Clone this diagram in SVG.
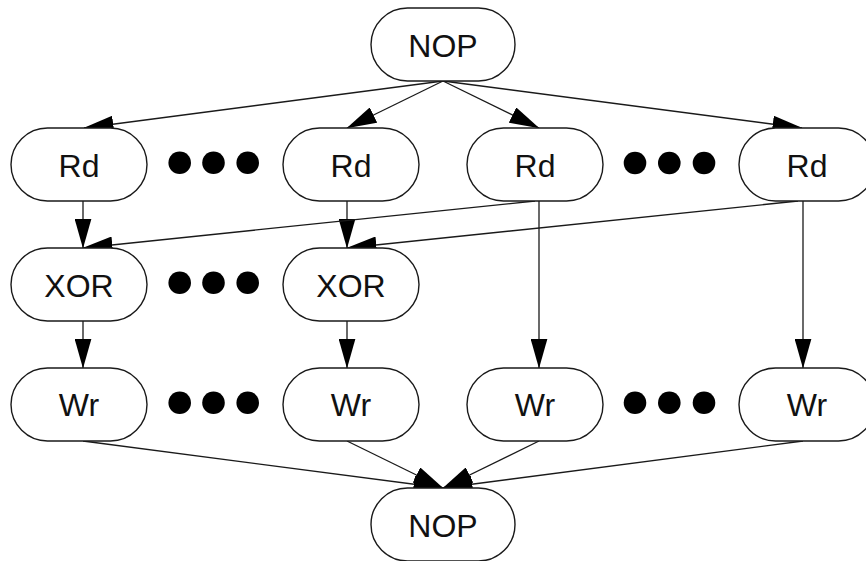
<svg xmlns="http://www.w3.org/2000/svg" width="866" height="561" viewBox="0 0 866 561">
<style>
.node rect{fill:#fff;stroke:#1a1a1a;stroke-width:1.4}
.node text{font-family:"Liberation Sans",Arial,sans-serif;font-size:32px;fill:#111;text-anchor:middle}
.edge{stroke:#1a1a1a;stroke-width:1.3;fill:none;marker-end:url(#arr)}
.dot{fill:#000}
</style>
<defs>
<marker id="arr" markerUnits="userSpaceOnUse" markerWidth="30" markerHeight="17" viewBox="0 0 30 17" refX="29.5" refY="8.5" orient="auto">
<path d="M0,0 L30,8.5 L0,17 z" fill="#000"/>
</marker>
</defs>
<rect width="866" height="561" fill="#fff"/>
<g id="connectors">
<line class="edge" x1="443" y1="81" x2="84" y2="128"/>
<line class="edge" x1="443" y1="81" x2="347" y2="128"/>
<line class="edge" x1="443" y1="81" x2="539" y2="128"/>
<line class="edge" x1="443" y1="81" x2="802" y2="128"/>
<line class="edge" x1="83" y1="201" x2="83" y2="248"/>
<line class="edge" x1="347" y1="201" x2="347" y2="248"/>
<line class="edge" x1="535" y1="201" x2="83" y2="248"/>
<line class="edge" x1="798" y1="201" x2="347" y2="248"/>
<line class="edge" x1="539" y1="201" x2="539" y2="368"/>
<line class="edge" x1="803" y1="201" x2="803" y2="368"/>
<line class="edge" x1="83" y1="321" x2="83" y2="368"/>
<line class="edge" x1="347" y1="321" x2="347" y2="368"/>
<line class="edge" x1="83" y1="441" x2="443" y2="488"/>
<line class="edge" x1="347" y1="441" x2="443" y2="488"/>
<line class="edge" x1="539" y1="441" x2="443" y2="488"/>
<line class="edge" x1="803" y1="441" x2="443" y2="488"/>
</g>
<g id="nop_top" class="node"><rect x="371" y="8" width="144" height="73" rx="36.5"/><text x="443" y="56.5">NOP</text></g>
<g id="rd1" class="node"><rect x="11" y="128" width="136" height="73" rx="36.5"/><text x="79" y="176.5">Rd</text></g>
<g id="rd2" class="node"><rect x="283" y="128" width="136" height="73" rx="36.5"/><text x="351" y="176.5">Rd</text></g>
<g id="rd3" class="node"><rect x="467" y="128" width="136" height="73" rx="36.5"/><text x="535" y="176.5">Rd</text></g>
<g id="rd4" class="node"><rect x="739" y="128" width="136" height="73" rx="36.5"/><text x="807" y="176.5">Rd</text></g>
<g id="xor1" class="node"><rect x="11" y="248" width="136" height="73" rx="36.5"/><text x="79" y="296.5">XOR</text></g>
<g id="xor2" class="node"><rect x="283" y="248" width="136" height="73" rx="36.5"/><text x="351" y="296.5">XOR</text></g>
<g id="wr1" class="node"><rect x="11" y="368" width="136" height="73" rx="36.5"/><text x="79" y="416">Wr</text></g>
<g id="wr2" class="node"><rect x="283" y="368" width="136" height="73" rx="36.5"/><text x="351" y="416">Wr</text></g>
<g id="wr3" class="node"><rect x="467" y="368" width="136" height="73" rx="36.5"/><text x="535" y="416">Wr</text></g>
<g id="wr4" class="node"><rect x="739" y="368" width="136" height="73" rx="36.5"/><text x="807" y="416">Wr</text></g>
<g id="nop_bottom" class="node"><rect x="371" y="488" width="144" height="73" rx="36.5"/><text x="443" y="536.5">NOP</text></g>
<g id="ellipses">
<circle class="dot" cx="179.7" cy="162.7" r="11.3"/><circle class="dot" cx="213.5" cy="162.7" r="11.3"/><circle class="dot" cx="247.7" cy="162.7" r="11.3"/>
<circle class="dot" cx="635" cy="163" r="11.3"/><circle class="dot" cx="669.3" cy="163" r="11.3"/><circle class="dot" cx="704" cy="163" r="11.3"/>
<circle class="dot" cx="179.7" cy="282.7" r="11.3"/><circle class="dot" cx="213.5" cy="282.7" r="11.3"/><circle class="dot" cx="247.7" cy="282.7" r="11.3"/>
<circle class="dot" cx="179.7" cy="402.8" r="11.3"/><circle class="dot" cx="213.5" cy="402.8" r="11.3"/><circle class="dot" cx="247.7" cy="402.8" r="11.3"/>
<circle class="dot" cx="635" cy="402.8" r="11.3"/><circle class="dot" cx="669.3" cy="402.8" r="11.3"/><circle class="dot" cx="704" cy="402.8" r="11.3"/>
</g>
</svg>
